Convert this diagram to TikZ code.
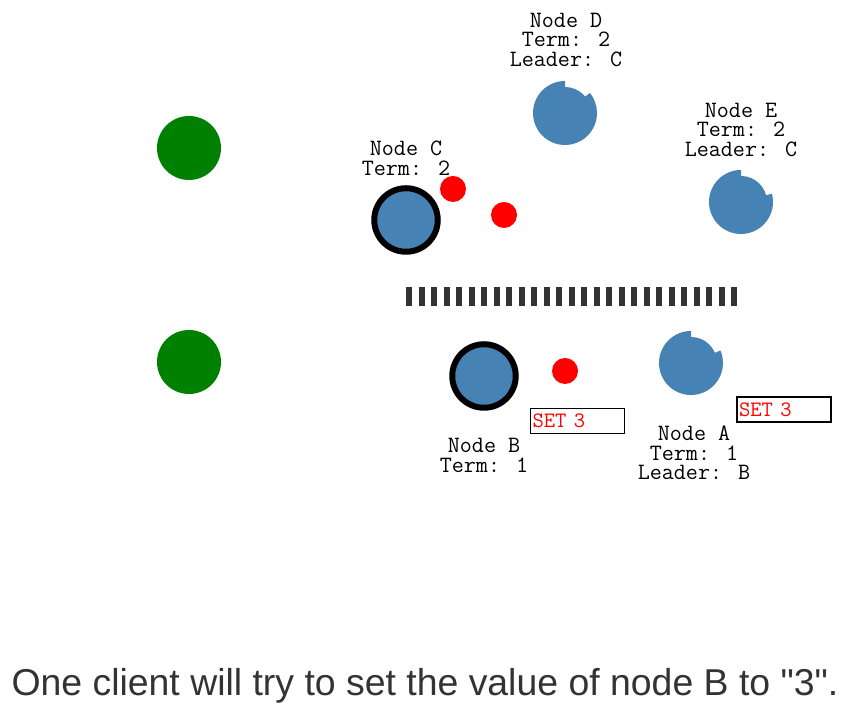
\documentclass[tikz,border=0pt]{standalone}
\usepackage{fontspec}
\newfontfamily\capfont{Liberation Sans}
\usetikzlibrary{positioning}
\definecolor{steel}{HTML}{4682B4}
\definecolor{darkgrn}{HTML}{008000}
\definecolor{partition}{HTML}{333333}
\definecolor{captiontxt}{HTML}{333333}

\begin{document}
\begin{tikzpicture}[
      x=1pt,y=1pt,
      client/.style={
         circle,
         fill=darkgrn,
         inner sep=0pt,
         minimum size=64pt},
      leader/.style={
         circle,
         draw=black,
         line width=6pt,
         fill=steel,
         inner sep=0pt,
         minimum size=63.5pt},
      follower/.style={
         circle,
         inner sep=0pt,
         minimum size=64pt},
      msg/.style={
         circle,
         fill=red,
         inner sep=0pt,
         minimum size=26pt},
      label/.style={
         align=center,
         font=\fontsize{23.4}{19.5}\selectfont\ttfamily},
      setbox/.style={
         rectangle,
         draw=black,
         line width=1.2pt,
         text=red,
         inner sep=2pt,
         text width=90pt,
         minimum height=25pt,
         font=\fontsize{22}{22}\selectfont\ttfamily}
      ]
      \useasboundingbox (0,0) rectangle (852,708);
      % clients
      \node[client] (cl1) at (189,560) {};
      \node[client] (cl2) at (189,346) {};
      % servers
      \node[leader] (nodeC) at (406,488) {};
      \node[leader] (nodeB) at (484,332) {};
      \node[follower] (nodeD) at (565,595) {};
      \node[follower] (nodeE) at (741,506) {};
      \node[follower] (nodeA) at (691,345) {};
      \foreach \n/\a in {nodeD/39,nodeE/15,nodeA/23} {
        \fill[steel] (\n.center) -- ++(90:32pt) arc[start angle=90,end angle=360+\a,radius=32pt] -- cycle;
        \fill[steel] (\n.center) circle (26pt);
      }
      % messages
      \node[msg] (m1) at (453,519) {};
      \node[msg] (m2) at (504,493) {};
      \node[msg] (m3) at (565,337) {};
      % network partition
      \coordinate (p1) at (406,411.5);
      \coordinate (p2) at (739,411.5);
      \draw[partition,line width=19pt,dash pattern=on 6pt off 6.5pt] (p1) -- (p2);
      % labels
      \node[label] (lD) at (566,668) {Node D\\Term: 2\\Leader: C};
      \node[label] (lE) at (741,578) {Node E\\Term: 2\\Leader: C};
      \node[label] (lC) at (406,549.5) {Node C\\Term: 2};
      \node[label] (lB) at (484,252.5) {Node B\\Term: 1};
      \node[label] (lA) at (694,255) {Node A\\Term: 1\\Leader: B};
      \node[setbox] (s1) at (577.5,287) {SET 3};
      \node[setbox] (s2) at (784,298.5) {SET 3};
      \node[font=\fontsize{37.4}{37.4}\selectfont\capfont,text=captiontxt] (cap) at (425,22) {One client will try to set the value of node B to "3".};
\end{tikzpicture}
\end{document}
